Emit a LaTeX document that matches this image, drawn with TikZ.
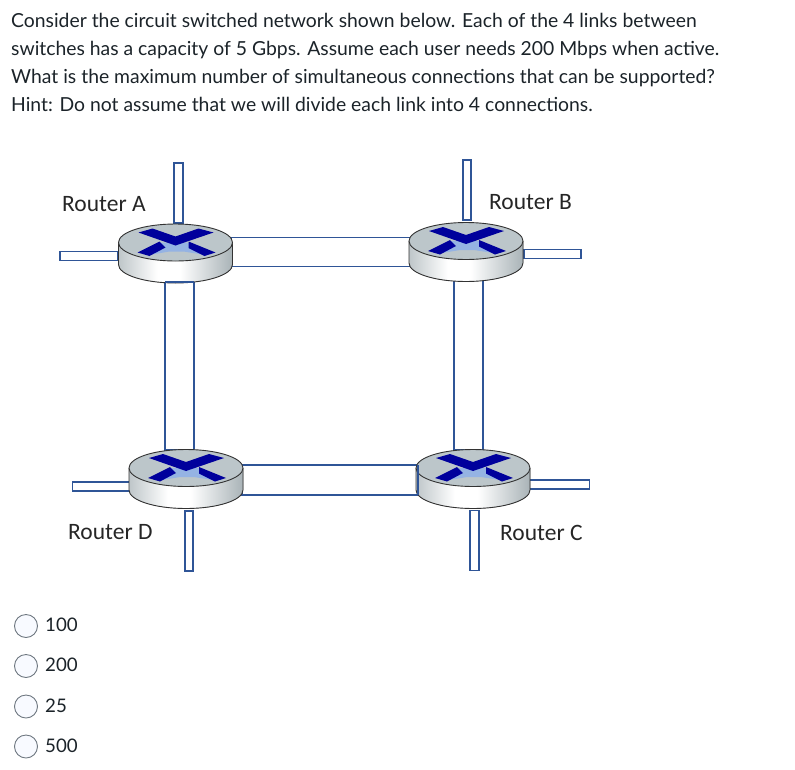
\documentclass[tikz,border=0pt]{standalone}
\usepackage{fontspec}
\setmainfont{Lato}
\newfontfamily\labelfont{Carlito}
\usetikzlibrary{shapes,positioning}
\definecolor{pipeblue}{HTML}{2F5597}
\definecolor{xdark}{HTML}{00009C}
\definecolor{xlight}{HTML}{95B3E3}
\definecolor{topgrey}{HTML}{BCC6CA}
\definecolor{sidegrey}{HTML}{A9B3B7}
\definecolor{radiofill}{HTML}{F8FAFF}
\definecolor{radioline}{HTML}{6E7780}
\definecolor{inktext}{HTML}{2D3B45}
\pgfdeclarehorizontalshading{routerside}{100bp}{color(0bp)=(sidegrey!75); color(25bp)=(sidegrey!75); color(42bp)=(white); color(52bp)=(white); color(75bp)=(sidegrey); color(100bp)=(sidegrey)}
\tikzset{
	pipe/.style={draw=pipeblue,line width=1.2pt,fill=white,inner sep=0pt,outer sep=0pt},
	question/.style={anchor=base west,inner sep=0pt,font=\fontsize{19.35}{19.35}\selectfont,text=inktext!60!black},
	router label/.style={inner sep=0pt,anchor=base west,font=\labelfont\fontsize{23.5}{23.5}\selectfont,text=black!85},
	radio/.style={circle,draw=radioline,fill=radiofill,line width=0.9pt,minimum size=23pt,inner sep=0pt},
	choice/.style={anchor=base west,inner sep=0pt,font=\fontsize{18.7}{18.7}\selectfont,text=inktext!60!black},
	router/.pic={
		\fill[shading=routerside,shading angle=0]
			(-57,0) -- (-57,22) arc[start angle=180,end angle=0,x radius=57,y radius=18.5] -- (57,0) -- cycle;
		\draw[black!80,line width=0.9pt] (-57,0) -- (-57,22) arc[start angle=180,end angle=0,x radius=57,y radius=18.5] -- (57,0);
		\draw[black!80,line width=0.9pt,fill=topgrey] (0,0) ellipse[x radius=57,y radius=18.5];
		\fill[xlight] (-15,0) -- (14,0) -- (14,5) -- (27,12) -- (8,9) -- (-6,9) -- (-24,12) -- (-11,5) -- cycle;
		\fill[xdark] (-37,-10) -- (-23,-14) -- (0,-6) -- (23,-14) -- (38,-10) -- (0,3) -- cycle;
		\fill[xdark] (-38,10) -- (-16,-1) -- (-10,5) -- (-26,13.5) -- cycle;
		\fill[xdark] (13,-1) -- (40,10) -- (29,13.5) -- (13,5.5) -- cycle;
	}
}
\begin{document}
\begin{tikzpicture}[x=1pt,y=-1pt]
	\useasboundingbox (0,0) rectangle (795,769);
	% question
	\node[question] (q1) at (11,27) {Consider the circuit switched network shown below. Each of the 4 links between};
	\node[question] (q2) at (11,55) {switches has a capacity of 5 Gbps. Assume each user needs 200 Mbps when active.};
	\node[question] (q3) at (11,83) {What is the maximum number of simultaneous connections that can be supported?};
	\node[question] (q4) at (11,111) {Hint: Do not assume that we will divide each link into 4 connections.};
	% routers
	\coordinate (A) at (175.5,242.5);
	\coordinate (B) at (466,241);
	\coordinate (C) at (473,468);
	\coordinate (D) at (186,468);
	% links
	\node[pipe,minimum width=9pt,minimum height=60pt] (Atop) at (178.5,193) {};
	\node[pipe,minimum width=58pt,minimum height=9pt] (Aleft) at (89,256) {};
	\node[pipe,minimum width=180pt,minimum height=29pt] (AB) at (321,252) {};
	\node[pipe,minimum width=29pt,minimum height=168pt] (AD) at (179.5,366) {};
	\node[pipe,minimum width=8pt,minimum height=60pt] (Btop) at (467,190) {};
	\node[pipe,minimum width=57pt,minimum height=9pt] (Bright) at (552.5,254) {};
	\node[pipe,minimum width=29pt,minimum height=170pt] (BC) at (468.5,365) {};
	\node[pipe,minimum width=57pt,minimum height=9pt] (Dleft) at (101,486.5) {};
	\node[pipe,minimum width=8pt,minimum height=60pt] (Dbot) at (189,541) {};
	\node[pipe,minimum width=176pt,minimum height=30pt] (DC) at (330,480) {};
	\node[pipe,minimum width=60pt,minimum height=9pt] (Cright) at (559.5,484.5) {};
	\node[pipe,minimum width=9pt,minimum height=60pt] (Cbot) at (474.5,540.5) {};
	\foreach \r in {A,B,C,D}
		\pic at (\r) {router};
	% pipe edges that lie over a router
	\draw[pipeblue,line width=1.2pt] (AD.north west) -- (AD.north east);
	\draw[pipeblue,line width=1.2pt] (DC.north east) -- (DC.south east);
	% labels
	\node[router label] (labA) at (62,211) {Router A};
	\node[router label] (labB) at (489,209) {Router B};
	\node[router label] (labD) at (68,539) {Router D};
	\node[router label] (labC) at (500,540) {Router C};
	% answers
	\foreach \y/\t [count=\i] in {626/100,666/200,706.5/25,746.5/500} {
		\node[radio] (radio\i) at (26,\y) {};
		\node[choice] (choice\i) at (45,\y+5.5) {\t};
	}
\end{tikzpicture}
\end{document}
